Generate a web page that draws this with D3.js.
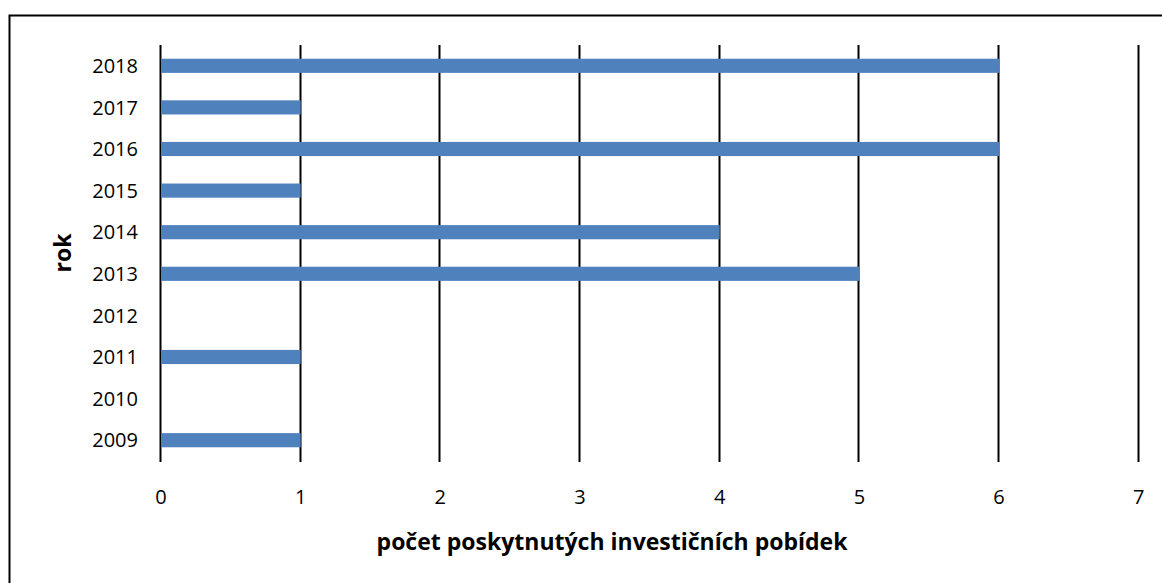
<!DOCTYPE html>
<html>
<head>
<meta charset="utf-8">
<script src="https://cdn.jsdelivr.net/npm/d3@7"></script>
<style>
  body { margin: 0; background: #fff; }
  text { font-family: "Open Sans", sans-serif; fill: #000; }
</style>
</head>
<body>
<div id="chart"></div>
<script>
//Width and height
var w = 1162;
var h = 583;

//data
var years = ["2018", "2017", "2016", "2015", "2014", "2013", "2012", "2011", "2010", "2009"];
var counts = [6, 1, 6, 1, 4, 5, 0, 1, 0, 1];
var xTicks = [0, 1, 2, 3, 4, 5, 6, 7];

var xLabel = "počet poskytnutých investičních pobídek";
var yLabel = "rok";

var x = d3.scaleLinear()
	.domain([0, 7])
	.range([161, 1138.7]);

var y = d3.scaleBand()
	.domain(years)
	.range([45, 461])
	.paddingInner(0.66)
	.paddingOuter(0.33);

var svg = d3.select("#chart")
	.append("svg")
	.attr("width", w)
	.attr("height", h);

//outer frame
svg.append("rect")
	.attr("x", 9.5)
	.attr("y", 15.5)
	.attr("width", 1200)
	.attr("height", 700)
	.attr("fill", "none")
	.attr("stroke", "#000")
	.attr("stroke-width", 2);

//vertical gridlines
svg.selectAll("line.grid")
	.data(xTicks)
	.enter()
	.append("line")
	.attr("class", "grid")
	.attr("x1", function (d) { return Math.round(x(d)) - 0.5; })
	.attr("x2", function (d) { return Math.round(x(d)) - 0.5; })
	.attr("y1", 45)
	.attr("y2", 462)
	.attr("stroke", "#000")
	.attr("stroke-width", 2);

//bars
svg.selectAll("rect.bar")
	.data(counts)
	.enter()
	.append("rect")
	.attr("class", "bar")
	.attr("x", x(0))
	.attr("y", function (d, i) { return y(years[i]); })
	.attr("width", function (d) { return x(d) - x(0); })
	.attr("height", y.bandwidth())
	.attr("fill", "#4F81BD");

//y axis labels
svg.selectAll("text.ylab")
	.data(years)
	.enter()
	.append("text")
	.attr("class", "ylab")
	.attr("x", 138)
	.attr("y", function (d) { return y(d) + y.bandwidth() / 2; })
	.attr("dy", "0.36em")
	.attr("text-anchor", "end")
	.style("font-size", "20px")
	.text(function (d) { return d; });

//x axis labels
svg.selectAll("text.xlab")
	.data(xTicks)
	.enter()
	.append("text")
	.attr("class", "xlab")
	.attr("x", function (d) { return x(d); })
	.attr("y", 497)
	.attr("dy", "0.36em")
	.attr("text-anchor", "middle")
	.style("font-size", "20px")
	.text(function (d) { return d; });

//axis titles
svg.append("text")
	.attr("x", 612)
	.attr("y", 550)
	.attr("text-anchor", "middle")
	.style("font-size", "23px")
	.style("font-weight", "bold")
	.text(xLabel);

svg.append("text")
	.attr("transform", "translate(71,253) rotate(-90)")
	.attr("text-anchor", "middle")
	.style("font-size", "23px")
	.style("font-weight", "bold")
	.text(yLabel);
</script>
</body>
</html>
